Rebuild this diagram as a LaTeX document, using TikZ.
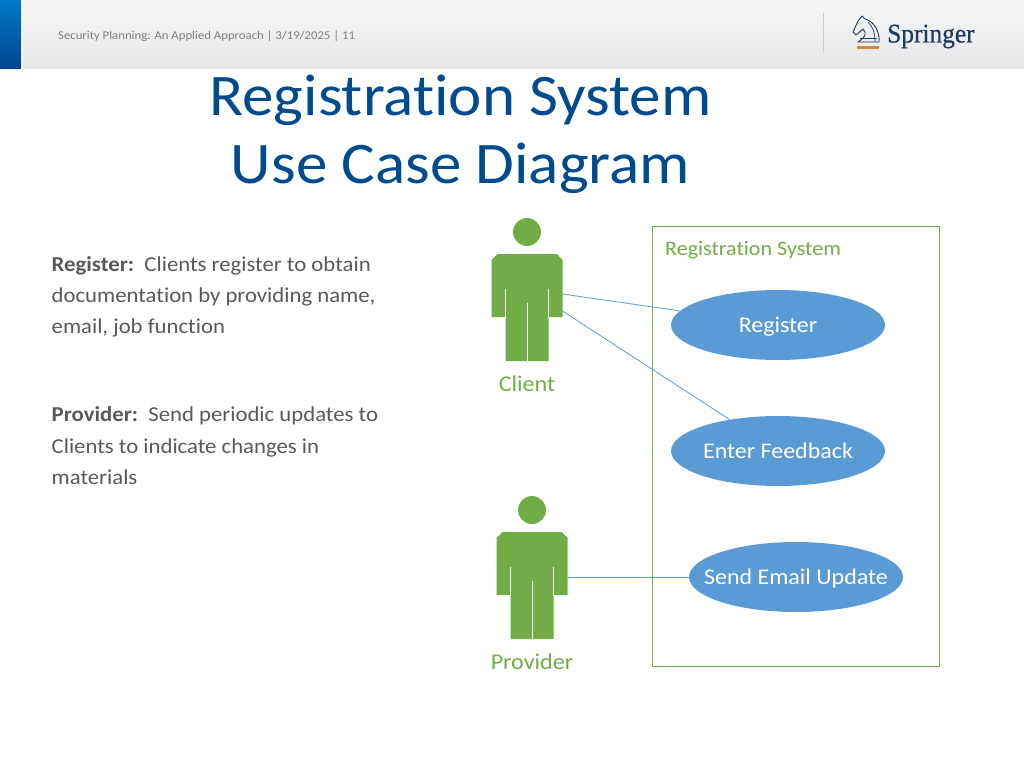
\documentclass[tikz,border=0pt]{standalone}
\usepackage{fontspec}
\setmainfont[FakeStretch=1.07, Ligatures=NoCommon]{Carlito}
\newfontfamily\logofont[FakeStretch=0.94, FakeBold=0.5]{Liberation Serif}
\usetikzlibrary{shapes.geometric}
\definecolor{titleblue}{HTML}{004B8D}
\definecolor{figgreen}{HTML}{70AD47}
\definecolor{caseblue}{HTML}{5B9BD5}
\definecolor{bodygray}{HTML}{595959}
\definecolor{logonavy}{HTML}{1F3A5F}
\definecolor{bandtop}{HTML}{F6F6F6}
\definecolor{bandbot}{HTML}{E6E7E9}
\definecolor{bartop}{HTML}{0078C8}
\definecolor{barbot}{HTML}{00478F}
\definecolor{logoorange}{HTML}{D08A3A}
\tikzset{
    usecase/.style={draw=none, fill=caseblue, ellipse, minimum width=214pt, minimum height=70pt, inner xsep=-30pt, inner ysep=0pt, text=white, text height=16pt, text depth=2pt, font=\fontsize{22.4}{26}\selectfont},
    actorlabel/.style={text=figgreen, inner sep=0pt, font=\fontsize{22.5}{26}\selectfont},
    bodytext/.style={text=bodygray, anchor=base west, inner sep=0pt, font=\fontsize{21.25}{26}\selectfont},
    titletext/.style={text=titleblue, anchor=base, inner sep=0pt, font=\fontsize{58.9}{60}\selectfont},
    assoc/.style={draw=caseblue, line width=0.8pt},
    person/.pic={
        \fill[figgreen] (0,-22) circle (14);
        \fill[figgreen] (-35.5,6) -- (-29.5,0) -- (29.5,0) -- (35.5,6) -- (35.5,63) -- (21.5,63) -- (21.5,107) -- (-21.5,107) -- (-21.5,63) -- (-35.5,63) -- cycle;
        \draw[white, line width=0.6pt] (-21.7,35) -- (-21.7,64);
        \draw[white, line width=0.6pt] (21.7,35) -- (21.7,64);
        \draw[white, line width=0.6pt] (0,49) -- (0,107);
        \coordinate (-handa) at (35.5,40);
        \coordinate (-handb) at (35.5,57);
        \coordinate (-handc) at (35.5,45);
    }
}
\begin{document}
\begin{tikzpicture}[x=1pt, y=-1pt]
    \useasboundingbox (0,0) rectangle (1024,768);
    % header band
    \shade[top color=bandtop, bottom color=bandbot] (23,0) rectangle (1024,68.6);
    \shade[top color=bartop, bottom color=barbot] (0,0) rectangle (21,68.6);
    \draw[black!20, line width=1pt] (823,13) -- (823,53);
    \node[text=black!50, anchor=base west, inner sep=0pt, font=\fontsize{11.9}{14}\selectfont] (footer) at (58,40) {Security Planning: An Applied Approach | 3/19/2025 | 11};
    % logo
    \draw[logonavy, line width=0.9pt, line join=round] (858,42) .. controls (866,37) and (867,33) .. (863,29) -- (856,35) -- (853,32) -- (858,21) -- (862,16) -- (865,19) .. controls (874,21) and (880,32) .. (879,42) -- cycle;
    \draw[logonavy, line width=0.7pt] (868,22) .. controls (873,27) and (875,33) .. (875,42);
    \draw[logonavy, line width=0.7pt] (860,38.5) -- (877,38.5);
    \fill[logoorange] (857,46) rectangle (879,49);
    \node[text=logonavy, anchor=base west, inner sep=0pt, font=\fontsize{27}{30}\logofont] (logotext) at (887,42.5) {Springer};
    % title
    \node[titletext] (titlea) at (460.5,115) {Registration System};
    \node[titletext] (titleb) at (460.5,183) {Use Case Diagram};
    % left text
    \node[bodytext] (reg1) at (51.5,271) {\textbf{Register:}\ \ Clients register to obtain};
    \node[bodytext] (reg2) at (51.5,302) {documentation by providing name,};
    \node[bodytext] (reg3) at (51.5,333) {email, job function};
    \node[bodytext] (prov1) at (51.5,421.5) {\textbf{Provider:}\ \ Send periodic updates to};
    \node[bodytext] (prov2) at (51.5,453) {Clients to indicate changes in};
    \node[bodytext] (prov3) at (51.5,484) {materials};
    % system box
    \draw[figgreen, line width=0.8pt] (652.7,226) rectangle (939.7,666);
    \node[text=figgreen, anchor=base west, inner sep=0pt, font=\fontsize{20.6}{24}\selectfont] (system) at (665,255) {Registration System};
    % actors
    \pic (client) at (527,254) {person};
    \pic (provider) at (532,532) {person};
    \node[actorlabel] (clientlabel) at (527,384) {Client};
    \node[actorlabel] (providerlabel) at (532,662) {Provider};
    % use cases
    \node[usecase] (register) at (778,325) {Register};
    \node[usecase] (feedback) at (778,451) {Enter Feedback};
    \node[usecase] (email) at (796,577) {Send Email Update};
    \draw[assoc] (client-handa) -- (register);
    \draw[assoc] (client-handb) -- (feedback);
    \draw[assoc] (provider-handc) -- (email);
\end{tikzpicture}
\end{document}
